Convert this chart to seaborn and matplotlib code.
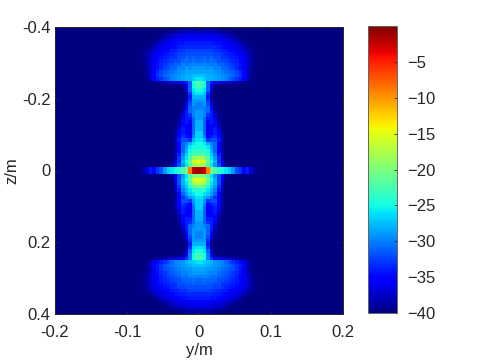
import numpy as np
import pandas as pd
import matplotlib
matplotlib.use("Agg")
import matplotlib.pyplot as plt
import seaborn as sns

y_vals = np.round((np.arange(80) - 39.5) * 0.005, 4)
z_vals = np.round((np.arange(80) - 39.5) * 0.01, 3)
x_ticks = [-0.2, -0.1, 0, 0.1, 0.2]
z_ticks = [-0.4, -0.2, 0, 0.2, 0.4]
cbar_ticks = [-40, -35, -30, -25, -20, -15, -10, -5]

# dB level per row, from the centre columns outward (the picture is mirrored about y=0)
upper_rows = [
    [-39,-39,-39,-39,-39,-39.5],
    [-37.5,-37.5,-37.5,-37.5,-38,-38,-38.5,-39,-39.5],
    [-36,-36,-36,-36,-36.5,-36.5,-37,-37.5,-38,-38.5,-39.5],
    [-35,-35,-35,-35,-35.5,-35.5,-36,-36.5,-37,-37.5,-38.5,-39.5],
    [-34,-34,-34,-34,-34.5,-34.5,-35,-35.5,-36,-36.5,-37,-38,-39,-39.5],
    [-33.5,-33.5,-33.5,-33.5,-33.5,-34,-34.5,-35,-35.5,-36,-36.5,-37,-38,-39,-39.5],
    [-32.5,-32.5,-32.5,-32.5,-33,-33,-34,-34,-35,-35,-36,-36.5,-37,-38,-39,-39.5],
    [-32,-32,-32,-32,-32.5,-32.5,-33,-33.5,-34,-34.5,-35,-35.5,-36.5,-37.5,-38.5,-39.5],
    [-31.5,-31,-31.5,-31,-32,-32,-33,-33,-33.5,-34,-34.5,-35,-36,-37,-38.5,-39.5],
    [-31,-30.5,-31,-30.5,-31,-32,-32,-32.5,-33,-33.5,-34,-35,-36,-37,-38.5,-39.5],
    [-30,-30,-30,-30.5,-30,-31,-31,-32,-32,-33,-33.5,-34.5,-35.5,-37,-38.5,-39.5],
    [-29,-29,-29.5,-29,-30,-30,-31,-31,-32,-32.5,-33.5,-34.5,-36,-37.5,-39],
    [-28.5,-28.5,-28.5,-28.5,-29,-29.5,-30,-30.5,-31,-31.5,-32.5,-33.5,-35,-37,-39],
    [-27.5,-27.5,-28,-28,-28.5,-29,-29.5,-30,-30.5,-31,-32,-33,-35,-37,-39],
    [-26,-27,-28,-28,-28.5,-29,-29.5,-30,-31,-32,-33,-34,-35.5,-37.5,-39.5],
    [-22.5,-25,-31,-34,-36,-36.5,-37,-37,-37.5,-38,-38.5,-39,-39.5],
    [-23,-25,-31,-36,-39],
    [-25,-26,-31,-37],
    [-26,-27,-33,-38.5],
    [-28,-28,-34,-39],
    [-29,-29,-33,-38],
    [-30,-29,-32,-36,-39.5],
    [-30,-30,-31,-35,-39],
    [-29,-30,-31,-34,-38],
    [-29,-30,-33,-34,-37,-39.5],
    [-29,-31,-34,-34,-36,-39],
    [-28,-31,-35,-34,-35,-38.5],
    [-28,-31,-36,-35,-35,-38],
    [-28,-31,-36,-35,-34,-37,-39.5],
    [-27,-31,-36,-35,-34,-36,-39],
    [-27,-30,-35,-34,-33,-35,-38.5],
    [-26,-28,-33,-32,-32,-34,-38],
    [-25,-26,-28,-30,-31,-35,-39],
    [-25,-25,-26,-29,-31,-35,-39],
    [-24,-24,-25,-28,-31,-35,-38],
    [-22,-22,-24,-27,-30,-34,-38],
    [-18,-19,-22,-26,-29,-33,-38],
    [-15,-16,-21,-25,-28,-33,-37],
    [-18,-19,-22,-26,-29,-32,-36,-39],
]
band_row = [-1.5,-2.5,-9,-20,-22,-24,-25,-26,-27,-29,-32,-33,-35,-34,-37,-39]
lower_rows = [
    [-20,-20,-22,-26,-29,-32,-36,-39],
    [-15,-16,-21,-25,-28,-32,-36],
    [-17,-18,-22,-26,-28,-32,-37],
    [-21,-22,-24,-27,-29,-33,-38],
    [-24,-24,-26,-28,-30,-34,-38],
    [-25,-26,-27,-29,-31,-35,-39],
    [-26,-28,-29,-31,-33,-36,-39.5],
    [-27,-29,-33,-32,-32,-35,-38.5],
    [-27,-30,-35,-34,-33,-35,-38.5],
    [-27,-31,-35,-35,-34,-36,-39],
    [-28,-31,-36,-35,-34,-37,-39.5],
    [-28,-31,-35,-35,-35,-38],
    [-28,-31,-34,-34,-35,-38.5],
    [-29,-31,-33,-34,-36,-39],
    [-29,-30,-31,-34,-37,-39.5],
    [-29,-29,-31,-34,-38],
    [-30,-29,-31,-35,-39],
    [-30,-29,-32,-36,-39.5],
    [-29,-29,-33,-38],
    [-28,-28,-34,-39],
    [-26,-27,-33,-38.5],
    [-25,-26,-31,-37],
    [-23,-25,-30,-36,-39],
    [-22.5,-25,-30,-33,-35,-36,-36.5,-37,-37.5,-38,-38.5,-39,-39.5],
    [-26,-27,-27.5,-28,-29,-29.5,-30,-31,-32,-33,-34,-35,-36.5,-38,-39.5],
    [-27.5,-27.5,-28,-28.5,-29,-29.5,-30,-30.5,-31,-32,-33,-34,-35.5,-37.5,-39],
    [-28.5,-28.5,-29,-29,-29.5,-30,-30.5,-31,-31.5,-32,-33,-34.5,-36,-38,-39.5],
    [-29,-29,-29.5,-30,-30,-30.5,-31,-31.5,-32,-33,-33.5,-34.5,-36,-37.5,-39],
    [-30,-30,-30,-30.5,-30.5,-31,-31.5,-32,-32.5,-33,-34,-35,-36,-37,-38.5,-39.5],
    [-31,-30.5,-31,-31,-31,-32,-32,-32.5,-33,-33.5,-34,-35,-36,-37,-38.5,-39.5],
    [-31.5,-31,-31.5,-31.5,-32,-32,-33,-33,-33.5,-34,-34.5,-35,-36,-37,-38.5,-39.5],
    [-32,-32,-32,-32,-32.5,-32.5,-33,-33.5,-34,-34.5,-35,-35.5,-36.5,-37.5,-38.5,-39.5],
    [-32.5,-32.5,-32.5,-33,-33,-33.5,-34,-34,-35,-35,-36,-36.5,-37,-38,-39,-39.5],
    [-33.5,-33.5,-33.5,-33.5,-34,-34,-34.5,-35,-35.5,-36,-36.5,-37,-38,-39,-39.5],
    [-34,-34,-34,-34.5,-34.5,-35,-35.5,-36,-36.5,-37,-37.5,-38.5,-39.5],
    [-35,-35,-35.5,-35.5,-36,-36,-36.5,-37,-37.5,-38,-39,-39.5],
    [-36,-36,-36.5,-36.5,-37,-37,-37.5,-38,-38.5,-39.5],
    [-37.5,-37.5,-37.5,-38,-38,-38.5,-39,-39.5],
    [-39,-39,-39,-39,-39.5],
]

half = upper_rows + [band_row, band_row] + lower_rows
levels = np.full((len(z_vals), len(y_vals)), -40.0)
mid = len(y_vals) // 2
for i, row in enumerate(half):
    for k, v in enumerate(row):
        levels[i, mid + k] = v
        levels[i, mid - 1 - k] = v
df = pd.DataFrame(levels, index=z_vals, columns=y_vals)

TICK = "#262626"
plt.rcParams["font.family"] = ["Liberation Sans", "DejaVu Sans"]

fig = plt.figure(figsize=(4.8, 3.6), dpi=100)
ax = fig.add_axes([55/480, 1 - 314/360, 288/480, 287/360])
cax = fig.add_axes([368/480, 1 - 313/360, 29/480, 287/360])

sns.heatmap(df, ax=ax, cbar_ax=cax, cmap="jet", vmin=-40, vmax=0,
            xticklabels=False, yticklabels=False, rasterized=True,
            cbar_kws={"ticks": cbar_ticks})

n_x, n_z = len(y_vals), len(z_vals)
ax.set_xticks([(v + 0.2) / 0.4 * n_x for v in x_ticks])
ax.set_xticklabels(["-0.2", "-0.1", "0", "0.1", "0.2"])
ax.set_yticks([(v + 0.4) / 0.8 * n_z for v in z_ticks])
ax.set_yticklabels(["-0.4", "-0.2", "0", "0.2", "0.4"])
ax.tick_params(direction="in", length=2.5, width=0.6, color=TICK, labelcolor=TICK,
               labelsize=12, top=True, right=True)
ax.tick_params(axis="x", pad=8)
ax.tick_params(axis="y", pad=3)
ax.set_xlabel("y/m", fontsize=12, color=TICK, labelpad=2)
ax.set_ylabel("z/m", fontsize=12, color=TICK, labelpad=2)
for s in ax.spines.values():
    s.set_visible(True)
    s.set_linewidth(0.7)
    s.set_color(TICK)

cb = ax.collections[0].colorbar
cb.ax.tick_params(direction="in", length=2.5, width=0.6, color=TICK, labelcolor=TICK,
                  labelsize=12, pad=7)
cb.outline.set_visible(True)
cb.outline.set_linewidth(0.7)
cb.outline.set_edgecolor("#666666")

fig.savefig("out.png", dpi=100)
